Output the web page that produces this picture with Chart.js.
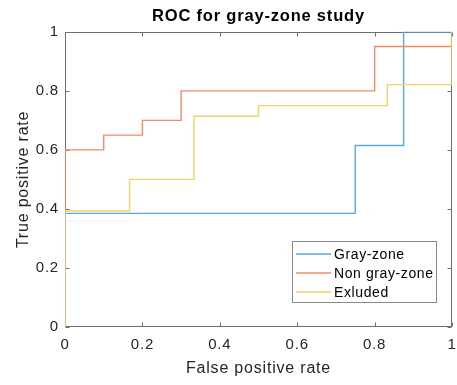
<!DOCTYPE html>
<html>
<head>
<meta charset="utf-8">
<script src="https://cdn.jsdelivr.net/npm/chart.js@4.4.1/dist/chart.umd.min.js"></script>
<style>
  html, body { margin: 0; padding: 0; background: #fff; }
  #wrap { width: 457px; height: 385px; }
</style>
</head>
<body>
<div id="wrap"><canvas id="roc"></canvas></div>
<script>
// ROC curve corner points (false positive rate, true positive rate)
const grayFpr = [0, 0, 0.75, 0.75, 0.875, 0.875, 1];
const grayTpr = [0, 0.385, 0.385, 0.615, 0.615, 1, 1];

const nonGrayFpr = [0, 0, 0.1, 0.1, 0.2, 0.2, 0.3, 0.3, 0.8, 0.8, 1, 1];
const nonGrayTpr = [0, 0.6, 0.6, 0.65, 0.65, 0.7, 0.7, 0.8, 0.8, 0.95, 0.95, 1];

const exclFpr = [0, 0, 0.167, 0.167, 0.333, 0.333, 0.5, 0.5, 0.833, 0.833, 1, 1];
const exclTpr = [0, 0.393, 0.393, 0.5, 0.5, 0.714, 0.714, 0.75, 0.75, 0.821, 0.821, 1];

const seriesNames = ["Gray-zone", "Non gray-zone", "Exluded"];
const tickValues = [0, 0.2, 0.4, 0.6, 0.8, 1];

const colors = ["#58a8e0", "#ef8c66", "#f5d066"];
const axisColor = "#262626";
const fontFamily = "'Liberation Sans', Arial, sans-serif";

const toPoints = (xs, ys) => xs.map((x, i) => ({ x: x, y: ys[i] }));

// slightly looser text; canvas resize wipes ctx state, so set it on every update
const spacing = {
  id: "spacing",
  beforeUpdate(chart) { chart.ctx.letterSpacing = "0.8px"; },
  beforeDraw(chart) { chart.ctx.letterSpacing = "0.8px"; }
};

// MATLAB-like box with inward ticks on all four sides, plus legend
const boxAxes = {
  id: "boxAxes",
  beforeDatasetsDraw(chart) {
    const { ctx, chartArea: a, scales } = chart;
    const l = Math.round(a.left) + 0.5, r = Math.round(a.right) - 0.5;
    const t = Math.round(a.top) + 0.5, b = Math.round(a.bottom) - 0.5;
    ctx.save();
    ctx.strokeStyle = "#6e6e6e";
    ctx.lineWidth = 1;
    ctx.strokeRect(l, t, r - l, b - t);
    ctx.beginPath();
    tickValues.forEach(v => {
      const px = Math.round(scales.x.getPixelForValue(v)) + 0.5;
      ctx.moveTo(px, b); ctx.lineTo(px, b - 4);
      ctx.moveTo(px, t); ctx.lineTo(px, t + 4);
      const py = Math.round(scales.y.getPixelForValue(v)) + 0.5;
      ctx.moveTo(l, py); ctx.lineTo(l + 4, py);
      ctx.moveTo(r, py); ctx.lineTo(r - 4, py);
    });
    ctx.stroke();
    ctx.restore();
  },
  afterDraw(chart) {
    const { ctx, chartArea: a } = chart;
    const w = 144, h = 61;
    const x0 = Math.round(a.right - 16 - w), y0 = Math.round(a.bottom - 25 - h);
    ctx.save();
    ctx.fillStyle = "#fff";
    ctx.fillRect(x0, y0, w, h);
    ctx.strokeStyle = "#8a8a8a";
    ctx.lineWidth = 1;
    ctx.strokeRect(x0 + 0.5, y0 + 0.5, w, h);
    ctx.font = "14px " + fontFamily;
    ctx.letterSpacing = "0.6px";
    ctx.textBaseline = "middle";
    chart.data.datasets.forEach((ds, i) => {
      const y = Math.round(y0 + 13 + i * 19.2);
      ctx.strokeStyle = ds.borderColor;
      ctx.lineWidth = 1.4;
      ctx.beginPath();
      ctx.moveTo(x0 + 4, y);
      ctx.lineTo(x0 + 39, y);
      ctx.stroke();
      ctx.fillStyle = "#000";
      ctx.fillText(ds.label, x0 + 42, y + 1);
    });
    ctx.restore();
  }
};

new Chart(document.getElementById("roc"), {
  type: "scatter",
  data: {
    datasets: [
      { label: seriesNames[0], data: toPoints(grayFpr, grayTpr), borderColor: colors[0], order: 3 },
      { label: seriesNames[1], data: toPoints(nonGrayFpr, nonGrayTpr), borderColor: colors[1], order: 2 },
      { label: seriesNames[2], data: toPoints(exclFpr, exclTpr), borderColor: colors[2], order: 1 }
    ].map(ds => Object.assign(ds, {
      showLine: true,
      borderWidth: 1.4,
      pointRadius: 0,
      backgroundColor: ds.borderColor,
      tension: 0
    }))
  },
  options: {
    responsive: true,
    maintainAspectRatio: false,
    animation: false,
    layout: { padding: { left: 0, right: 5, top: 0, bottom: 0 } },
    plugins: {
      legend: { display: false },
      tooltip: { enabled: false },
      title: {
        display: true,
        text: "ROC for gray-zone study",
        fullSize: false,
        color: "#000",
        font: { family: fontFamily, size: 16.5, weight: "bold" },
        padding: { top: 7, bottom: 5 }
      }
    },
    scales: {
      x: {
        type: "linear",
        min: 0, max: 1,
        afterBuildTicks: s => { s.ticks = tickValues.map(v => ({ value: v })); },
        afterFit: s => { s.height = 58; s.paddingLeft = 0; s.paddingRight = 0; },
        grid: { display: false, drawTicks: false },
        border: { display: false },
        ticks: {
          color: axisColor,
          padding: 9,
          maxRotation: 0,
          font: { family: fontFamily, size: 15 },
          callback: v => String(v)
        },
        title: {
          display: true,
          text: "False positive rate",
          color: axisColor,
          padding: { top: 0, bottom: 7 },
          font: { family: fontFamily, size: 16 }
        }
      },
      y: {
        type: "linear",
        min: 0, max: 1,
        afterBuildTicks: s => { s.ticks = tickValues.map(v => ({ value: v })); },
        afterFit: s => { s.width = 65; s.paddingTop = 0; s.paddingBottom = 0; },
        grid: { display: false, drawTicks: false },
        border: { display: false },
        ticks: {
          color: axisColor,
          padding: 6,
          font: { family: fontFamily, size: 15 },
          callback: v => String(v)
        },
        title: {
          display: true,
          text: "True positive rate",
          color: axisColor,
          padding: { top: 14, bottom: 0 },
          font: { family: fontFamily, size: 16 }
        }
      }
    }
  },
  plugins: [spacing, boxAxes]
});
</script>
</body>
</html>
